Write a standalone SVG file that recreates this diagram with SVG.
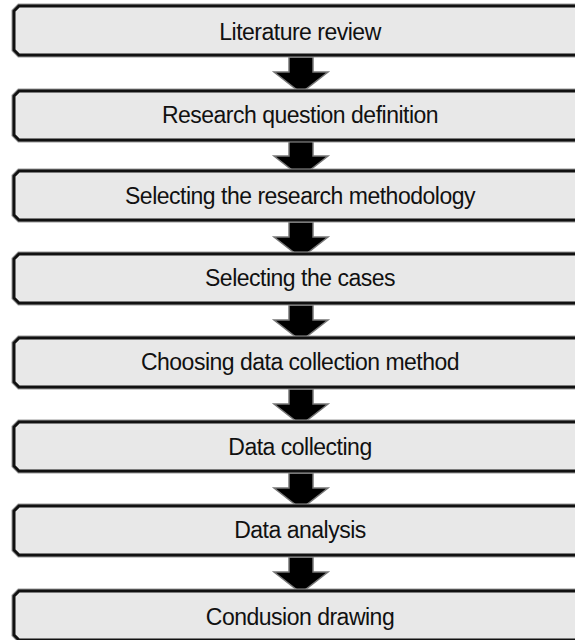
<svg xmlns="http://www.w3.org/2000/svg" width="575" height="640" viewBox="0 0 575 640">
  <style>
    .box { fill: #e8e8e8; stroke: #111; stroke-width: 3; }
    .box-halo { fill: none; stroke: #9a9a9a; stroke-width: 5; }
    .label { font-family: "Liberation Sans", Arial, sans-serif; font-size: 23px; fill: #111; text-anchor: middle; letter-spacing: -0.5px; }
    .arrow { fill: #000; stroke: #777; stroke-width: 1.5; stroke-linejoin: miter; }
  </style>
  <defs>
    <!-- step box with chamfered left corners; runs off the right edge -->
    <path id="step" d="M19,0 H600 V49 H19 L14,44 V5 Z"/>
    <!-- block arrow pointing down, tip at origin bottom -->
    <path id="down" d="M-12,0 H12 V15 H27 L0,36 L-27,15 H-12 Z"/>
  </defs>
  <rect width="575" height="640" fill="#fff"/>

  <g id="connectors">
    <use href="#down" class="arrow" transform="translate(301,57)"/>
    <use href="#down" class="arrow" transform="translate(301,141)"/>
    <use href="#down" class="arrow" transform="translate(301,222)"/>
    <use href="#down" class="arrow" transform="translate(301,305)"/>
    <use href="#down" class="arrow" transform="translate(301,389)"/>
    <use href="#down" class="arrow" transform="translate(301,473)"/>
    <use href="#down" class="arrow" transform="translate(301,557)"/>
  </g>

  <g id="n1"><use href="#step" class="box-halo" y="6"/><use href="#step" class="box" y="6"/><text class="label" x="300" y="40">Literature review</text></g>
  <g id="n2"><use href="#step" class="box-halo" y="91"/><use href="#step" class="box" y="91"/><text class="label" x="300" y="123">Research question definition</text></g>
  <g id="n3"><use href="#step" class="box-halo" y="171"/><use href="#step" class="box" y="171"/><text class="label" x="300" y="204">Selecting the research methodology</text></g>
  <g id="n4"><use href="#step" class="box-halo" y="254"/><use href="#step" class="box" y="254"/><text class="label" x="300" y="286">Selecting the cases</text></g>
  <g id="n5"><use href="#step" class="box-halo" y="338"/><use href="#step" class="box" y="338"/><text class="label" x="300" y="370">Choosing data collection method</text></g>
  <g id="n6"><use href="#step" class="box-halo" y="422"/><use href="#step" class="box" y="422"/><text class="label" x="300" y="455">Data collecting</text></g>
  <g id="n7"><use href="#step" class="box-halo" y="506"/><use href="#step" class="box" y="506"/><text class="label" x="300" y="538">Data analysis</text></g>
  <g id="n8"><use href="#step" class="box-halo" y="591"/><use href="#step" class="box" y="591"/><text class="label" x="300" y="625">Condusion drawing</text></g>
</svg>
